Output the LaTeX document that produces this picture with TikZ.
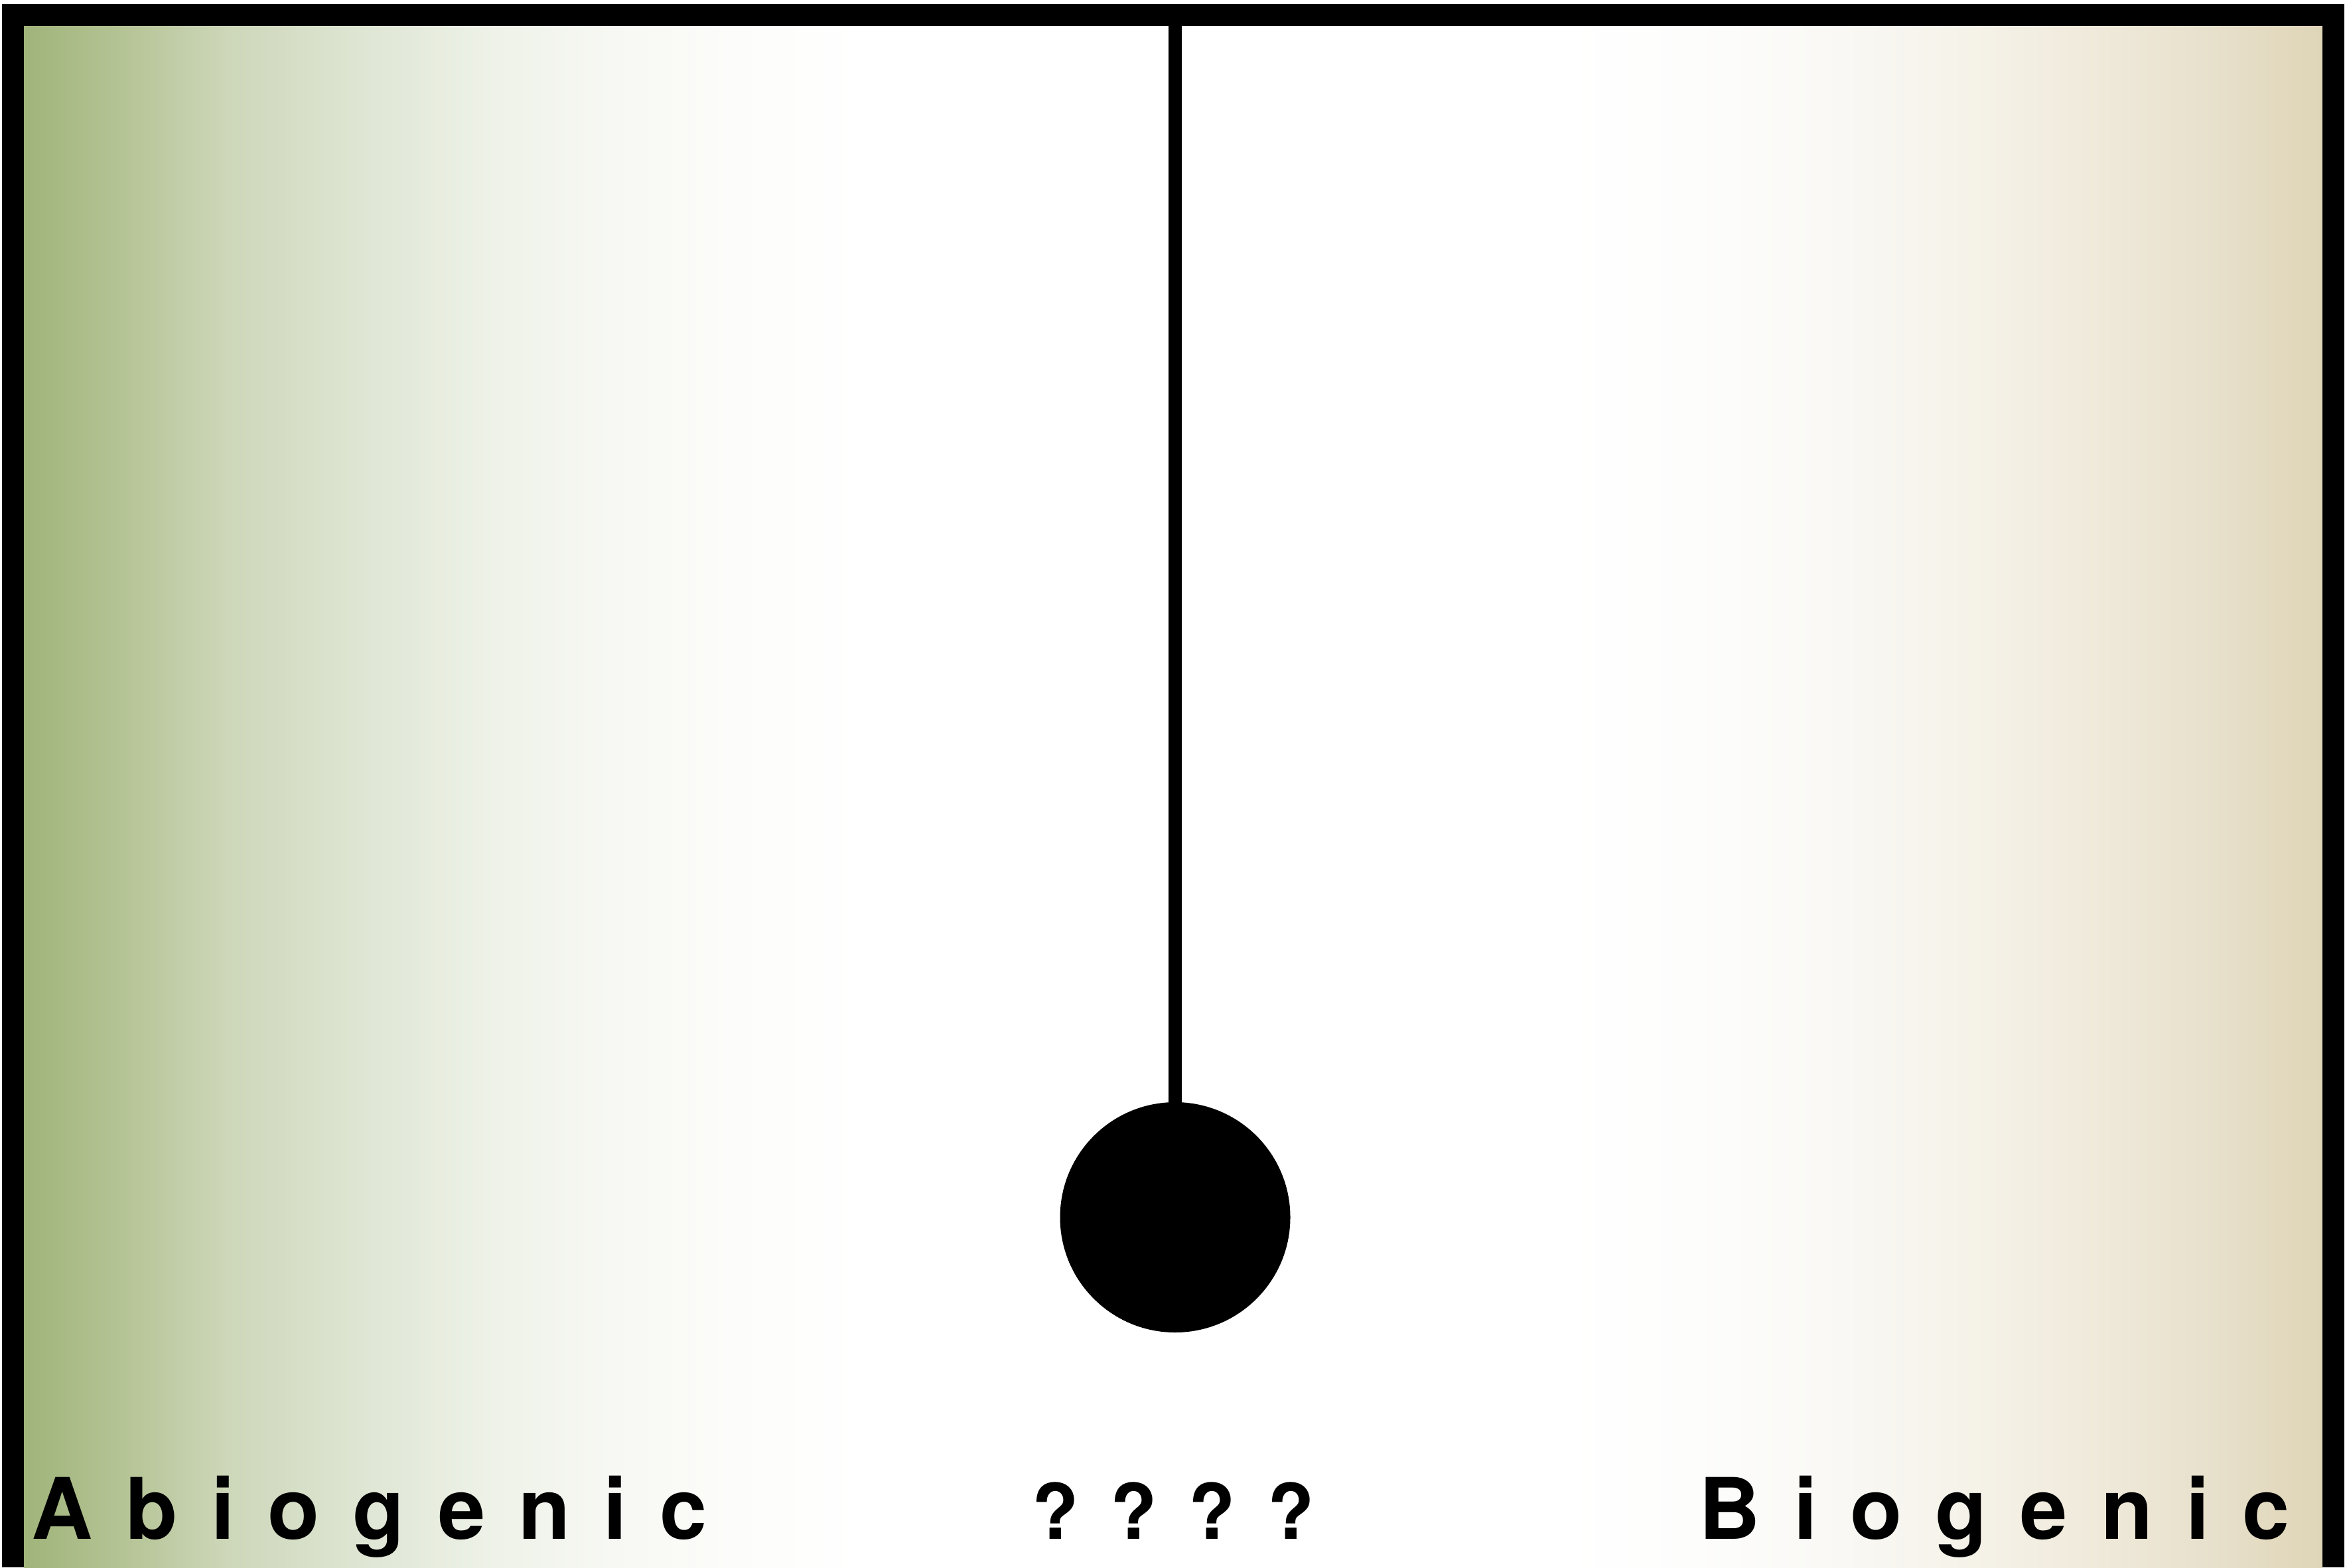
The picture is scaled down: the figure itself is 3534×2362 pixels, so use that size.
\documentclass[tikz,border=0pt]{standalone}
\usepackage{fontspec}
\newfontfamily\hvfont{TeX Gyre Heros}
\definecolor{gA}{RGB}{160,180,122}
\definecolor{gB}{RGB}{183,197,152}
\definecolor{gC}{RGB}{205,215,185}
\definecolor{gD}{RGB}{224,231,214}
\definecolor{gE}{RGB}{238,242,232}
\definecolor{gF}{RGB}{247,248,243}
\definecolor{gG}{RGB}{252,252,250}
\definecolor{tA}{RGB}{253,253,252}
\definecolor{tB}{RGB}{250,249,246}
\definecolor{tC}{RGB}{245,242,232}
\definecolor{tD}{RGB}{239,233,218}
\definecolor{tE}{RGB}{232,225,205}
\definecolor{tF}{RGB}{223,213,183}
% path spans 25bp..75bp ; x px -> 25 + (x-36)/69.28 bp
\pgfdeclarehorizontalshading{bgshade}{100bp}{%
color(0bp)=(gA);
color(25bp)=(gA);
color(27.37bp)=(gB);
color(29.42bp)=(gC);
color(32.65bp)=(gD);
color(35.22bp)=(gE);
color(37.80bp)=(gF);
color(40.36bp)=(gG);
color(43.24bp)=(white);
color(58.40bp)=(white);
color(61.29bp)=(tA);
color(64.09bp)=(tB);
color(67.39bp)=(tC);
color(70.24bp)=(tD);
color(72.40bp)=(tE);
color(75bp)=(tF);
color(100bp)=(tF)}
\newcommand\lsp{\kern 5mm}
\newcommand\qsp{\kern 0.5mm}
\tikzset{
  frame/.style={line width=3.3mm, line cap=butt, line join=miter},
  label/.style={font=\hvfont\bfseries\fontsize{36.4}{40}\selectfont, inner sep=0pt, anchor=base west},
  qlabel/.style={font=\hvfont\bfseries\fontsize{32.8}{36}\selectfont, inner sep=0pt, anchor=base},
}
\begin{document}
\begin{tikzpicture}[x=0.1mm, y=-0.1mm]
\useasboundingbox (0,0) rectangle (3534,2362);
\fill[white] (0,0) rectangle (3534,2362);
\shade[shading=bgshade] (36,39) rectangle (3500,2362);
\draw[frame] (19.5,2362) -- (19.5,22.5) -- (3516,22.5) -- (3516,2362);
\node[circle, fill=black, inner sep=0pt, minimum size=34.7mm] (ball) at (1771,1834.5) {};
\coordinate (pivot) at (1771,39);
\draw[line width=2mm] (pivot) -- (ball.center);
\node[label] (abio) at (47,2319) {A\lsp b\lsp i\lsp o\lsp g\lsp e\lsp n\lsp i\lsp c};
\node[qlabel] (unknown) at (1768,2319) {? \qsp? \qsp? \qsp?};
\node[label] (bio) at (2560,2319) {B\lsp i\lsp o\lsp g\lsp e\lsp n\lsp i\lsp c};
\end{tikzpicture}
\end{document}
